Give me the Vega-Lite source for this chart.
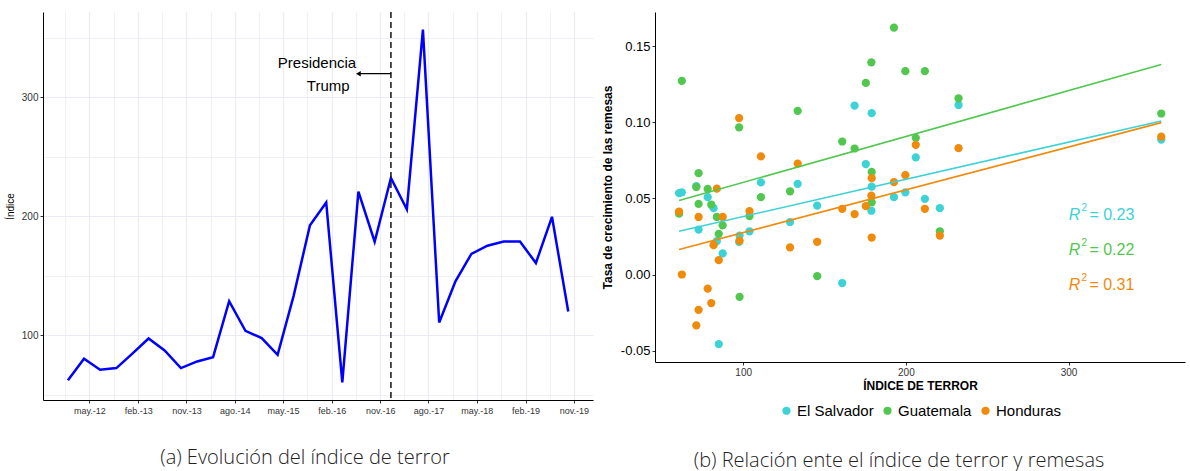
{
  "$schema": "https://vega.github.io/schema/vega-lite/v6.json",
  "background": "white",
  "padding": {"left": 5, "top": 11, "right": 2, "bottom": 5},
  "spacing": 8,
  "resolve": {"legend": {"color": "independent"}, "scale": {"color": "independent"}},
  "config": {
    "view": {"stroke": null},
    "font": "Liberation Sans",
    "axis": {"domainColor": "#000", "domainWidth": 1, "tickColor": "#333", "tickSize": 3, "labelColor": "#4d4d4d"},
    "legend": {"layout": {"bottom": {"anchor": "middle"}}},
    "locale": {
      "number": {"decimal": ".", "thousands": ",", "grouping": [3], "currency": ["$", ""], "minus": "-"},
      "time": {
        "dateTime": "%A, %e de %B de %Y, %X",
        "date": "%d/%m/%Y",
        "time": "%H:%M:%S",
        "periods": ["AM", "PM"],
        "days": ["domingo", "lunes", "martes", "miércoles", "jueves", "viernes", "sábado"],
        "shortDays": ["dom", "lun", "mar", "mié", "jue", "vie", "sáb"],
        "months": ["enero", "febrero", "marzo", "abril", "mayo", "junio", "julio", "agosto", "septiembre", "octubre", "noviembre", "diciembre"],
        "shortMonths": ["ene", "feb", "mar", "abr", "may", "jun", "jul", "ago", "sep", "oct", "nov", "dic"]
      }
    }
  },
  "datasets": {
    "indice": [
      {"fecha": "2012-01-01", "indice": 62.3},
      {"fecha": "2012-04-01", "indice": 80.4},
      {"fecha": "2012-07-01", "indice": 71.2},
      {"fecha": "2012-10-01", "indice": 72.6},
      {"fecha": "2013-01-01", "indice": 85.0},
      {"fecha": "2013-04-01", "indice": 97.5},
      {"fecha": "2013-07-01", "indice": 87.4},
      {"fecha": "2013-10-01", "indice": 72.6},
      {"fecha": "2014-01-01", "indice": 78.2},
      {"fecha": "2014-04-01", "indice": 81.8},
      {"fecha": "2014-07-01", "indice": 128.8},
      {"fecha": "2014-10-01", "indice": 103.9},
      {"fecha": "2015-01-01", "indice": 97.8},
      {"fecha": "2015-04-01", "indice": 83.8},
      {"fecha": "2015-07-01", "indice": 133.5},
      {"fecha": "2015-10-01", "indice": 192.7},
      {"fecha": "2016-01-01", "indice": 211.7},
      {"fecha": "2016-04-01", "indice": 60.6},
      {"fecha": "2016-07-01", "indice": 220.9},
      {"fecha": "2016-10-01", "indice": 178.8},
      {"fecha": "2017-01-01", "indice": 232.4},
      {"fecha": "2017-04-01", "indice": 206.1},
      {"fecha": "2017-07-01", "indice": 357.0},
      {"fecha": "2017-10-01", "indice": 110.9},
      {"fecha": "2018-01-01", "indice": 145.5},
      {"fecha": "2018-04-01", "indice": 168.5},
      {"fecha": "2018-07-01", "indice": 175.4},
      {"fecha": "2018-10-01", "indice": 179.0},
      {"fecha": "2019-01-01", "indice": 179.0},
      {"fecha": "2019-04-01", "indice": 160.9},
      {"fecha": "2019-07-01", "indice": 199.7},
      {"fecha": "2019-10-01", "indice": 120.1}
    ],
    "trump": [{"fecha": "2017-01-01"}],
    "flecha": [{"fecha": "2017-01-01", "hasta": "2016-07-01", "indice": 320}],
    "punta": [{"fecha": "2016-07-01", "indice": 320}],
    "nota": [
      {"texto": "Presidencia", "fecha": "2015-11-10", "indice": 328.7},
      {"texto": "Trump", "fecha": "2016-01-12", "indice": 309.5}
    ],
    "dispersion": [
      {"pais": "El Salvador", "terror": 62.3, "tasa": 0.054},
      {"pais": "El Salvador", "terror": 60.6, "tasa": 0.0535},
      {"pais": "El Salvador", "terror": 71.2, "tasa": 0.058},
      {"pais": "El Salvador", "terror": 78.2, "tasa": 0.0508},
      {"pais": "El Salvador", "terror": 81.8, "tasa": 0.0436},
      {"pais": "El Salvador", "terror": 72.6, "tasa": 0.0295},
      {"pais": "El Salvador", "terror": 103.9, "tasa": 0.0284},
      {"pais": "El Salvador", "terror": 97.8, "tasa": 0.0256},
      {"pais": "El Salvador", "terror": 83.8, "tasa": 0.0219},
      {"pais": "El Salvador", "terror": 87.4, "tasa": 0.0139},
      {"pais": "El Salvador", "terror": 85.0, "tasa": -0.0457},
      {"pais": "El Salvador", "terror": 110.9, "tasa": 0.0605},
      {"pais": "El Salvador", "terror": 133.5, "tasa": 0.0596},
      {"pais": "El Salvador", "terror": 128.8, "tasa": 0.0345},
      {"pais": "El Salvador", "terror": 145.5, "tasa": 0.0453},
      {"pais": "El Salvador", "terror": 168.5, "tasa": 0.111},
      {"pais": "El Salvador", "terror": 179.0, "tasa": 0.106},
      {"pais": "El Salvador", "terror": 232.4, "tasa": 0.1114},
      {"pais": "El Salvador", "terror": 206.1, "tasa": 0.077},
      {"pais": "El Salvador", "terror": 175.4, "tasa": 0.0726},
      {"pais": "El Salvador", "terror": 179.0, "tasa": 0.0577},
      {"pais": "El Salvador", "terror": 192.7, "tasa": 0.0508},
      {"pais": "El Salvador", "terror": 199.7, "tasa": 0.054},
      {"pais": "El Salvador", "terror": 211.7, "tasa": 0.0497},
      {"pais": "El Salvador", "terror": 220.9, "tasa": 0.0436},
      {"pais": "El Salvador", "terror": 178.8, "tasa": 0.0419},
      {"pais": "El Salvador", "terror": 160.9, "tasa": -0.0056},
      {"pais": "El Salvador", "terror": 357.0, "tasa": 0.0887},
      {"pais": "El Salvador", "terror": 97.5, "tasa": 0.0215},
      {"pais": "Guatemala", "terror": 62.3, "tasa": 0.1272},
      {"pais": "Guatemala", "terror": 97.5, "tasa": 0.0967},
      {"pais": "Guatemala", "terror": 133.5, "tasa": 0.1075},
      {"pais": "Guatemala", "terror": 72.6, "tasa": 0.0666},
      {"pais": "Guatemala", "terror": 71.2, "tasa": 0.0575},
      {"pais": "Guatemala", "terror": 78.2, "tasa": 0.0562},
      {"pais": "Guatemala", "terror": 72.6, "tasa": 0.0464},
      {"pais": "Guatemala", "terror": 80.4, "tasa": 0.046},
      {"pais": "Guatemala", "terror": 110.9, "tasa": 0.0508},
      {"pais": "Guatemala", "terror": 128.8, "tasa": 0.0547},
      {"pais": "Guatemala", "terror": 60.6, "tasa": 0.04},
      {"pais": "Guatemala", "terror": 83.8, "tasa": 0.0378},
      {"pais": "Guatemala", "terror": 103.9, "tasa": 0.0384},
      {"pais": "Guatemala", "terror": 87.4, "tasa": 0.0323},
      {"pais": "Guatemala", "terror": 85.0, "tasa": 0.0267},
      {"pais": "Guatemala", "terror": 145.5, "tasa": -0.0011},
      {"pais": "Guatemala", "terror": 97.8, "tasa": -0.0147},
      {"pais": "Guatemala", "terror": 192.7, "tasa": 0.1622},
      {"pais": "Guatemala", "terror": 178.8, "tasa": 0.1394},
      {"pais": "Guatemala", "terror": 199.7, "tasa": 0.1336},
      {"pais": "Guatemala", "terror": 211.7, "tasa": 0.1336},
      {"pais": "Guatemala", "terror": 175.4, "tasa": 0.1259},
      {"pais": "Guatemala", "terror": 232.4, "tasa": 0.1158},
      {"pais": "Guatemala", "terror": 160.9, "tasa": 0.0874},
      {"pais": "Guatemala", "terror": 168.5, "tasa": 0.0828},
      {"pais": "Guatemala", "terror": 206.1, "tasa": 0.0898},
      {"pais": "Guatemala", "terror": 179.0, "tasa": 0.0674},
      {"pais": "Guatemala", "terror": 179.0, "tasa": 0.0475},
      {"pais": "Guatemala", "terror": 220.9, "tasa": 0.0284},
      {"pais": "Guatemala", "terror": 357.0, "tasa": 0.1058},
      {"pais": "Honduras", "terror": 97.5, "tasa": 0.1028},
      {"pais": "Honduras", "terror": 110.9, "tasa": 0.0776},
      {"pais": "Honduras", "terror": 133.5, "tasa": 0.0729},
      {"pais": "Honduras", "terror": 83.8, "tasa": 0.0564},
      {"pais": "Honduras", "terror": 60.6, "tasa": 0.0414},
      {"pais": "Honduras", "terror": 72.6, "tasa": 0.0378},
      {"pais": "Honduras", "terror": 87.4, "tasa": 0.0378},
      {"pais": "Honduras", "terror": 103.9, "tasa": 0.0417},
      {"pais": "Honduras", "terror": 97.8, "tasa": 0.0222},
      {"pais": "Honduras", "terror": 81.8, "tasa": 0.0193},
      {"pais": "Honduras", "terror": 128.8, "tasa": 0.0178},
      {"pais": "Honduras", "terror": 145.5, "tasa": 0.0215},
      {"pais": "Honduras", "terror": 85.0, "tasa": 0.0094},
      {"pais": "Honduras", "terror": 62.3, "tasa": 0.0},
      {"pais": "Honduras", "terror": 78.2, "tasa": -0.0093},
      {"pais": "Honduras", "terror": 80.4, "tasa": -0.0188},
      {"pais": "Honduras", "terror": 72.6, "tasa": -0.0233},
      {"pais": "Honduras", "terror": 71.2, "tasa": -0.0334},
      {"pais": "Honduras", "terror": 206.1, "tasa": 0.0852},
      {"pais": "Honduras", "terror": 232.4, "tasa": 0.083},
      {"pais": "Honduras", "terror": 179.0, "tasa": 0.0633},
      {"pais": "Honduras", "terror": 199.7, "tasa": 0.0653},
      {"pais": "Honduras", "terror": 192.7, "tasa": 0.0607},
      {"pais": "Honduras", "terror": 178.8, "tasa": 0.0518},
      {"pais": "Honduras", "terror": 211.7, "tasa": 0.0432},
      {"pais": "Honduras", "terror": 175.4, "tasa": 0.0449},
      {"pais": "Honduras", "terror": 168.5, "tasa": 0.0397},
      {"pais": "Honduras", "terror": 160.9, "tasa": 0.0432},
      {"pais": "Honduras", "terror": 179.0, "tasa": 0.0243},
      {"pais": "Honduras", "terror": 220.9, "tasa": 0.0256},
      {"pais": "Honduras", "terror": 357.0, "tasa": 0.0906}
    ],
    "r2": [
      {"pais": "El Salvador", "terror": 307.3, "tasa": 0.0389, "valor": "= 0.23"},
      {"pais": "Guatemala", "terror": 307.3, "tasa": 0.0159, "valor": "= 0.22"},
      {"pais": "Honduras", "terror": 307.3, "tasa": -0.0072, "valor": "= 0.31"}
    ]
  },
  "hconcat": [
    {
      "width": 550,
      "height": 388,
      "title": {"text": "(a) Evolución del índice de terror", "orient": "bottom", "anchor": "middle", "font": "Open Sans", "fontWeight": 300, "fontSize": 20, "color": "#222", "offset": 33, "dx": -13},
      "resolve": {"axis": {"x": "independent"}},
      "layer": [
        {
          "data": {"name": "indice"},
          "mark": {"type": "line", "color": "#0000FF", "strokeWidth": 2.5},
          "encoding": {
            "x": {
              "field": "fecha", "type": "temporal",
              "scale": {"domain": [1313193600000, 1581984000000], "nice": false},
              "axis": {
                "title": null,
                "values": [1335873600000, 1359720000000, 1383307200000, 1406894400000, 1430481600000, 1454328000000, 1478001600000, 1501588800000, 1525176000000, 1549022400000, 1572609600000],
                "format": "%b.-%y",
                "labelFontSize": 9,
                "labelColor": "#333",
                "labelPadding": 3,
                "labelOverlap": false,
                "grid": true,
                "gridColor": "#EBEBF3",
                "gridWidth": 1.2,
                "tickColor": "#333",
                "tickSize": 3
              }
            },
            "y": {
              "field": "indice", "type": "quantitative",
              "scale": {"domain": [45.8, 371.8], "nice": false, "zero": false},
              "axis": {
                "values": [50, 100, 150, 200, 250, 300, 350],
                "labelExpr": "datum.value % 100 == 0 ? datum.label : ''",
                "title": "Índice",
                "titleFontWeight": "normal",
                "titleFontSize": 10,
                "titleColor": "#000",
                "titlePadding": 6,
                "labelFontSize": 10,
                "labelColor": "#333",
                "labelPadding": 2,
                "grid": true,
                "gridColor": "#EBEBF3",
                "gridWidth": {"condition": {"test": "datum.value % 100 == 0", "value": 1.2}, "value": 0.8},
                "tickColor": {"condition": {"test": "datum.value % 100 == 0", "value": "#333"}, "value": "transparent"},
                "tickSize": 3
              }
            }
          }
        },
        {
          "data": {"name": "trump"},
          "mark": {"type": "rule", "color": "#222", "strokeWidth": 1.6, "strokeDash": [6, 4]},
          "encoding": {
            "x": {
              "field": "fecha", "type": "temporal",
              "axis": {
                "orient": "top",
                "title": null,
                "values": [1324036800000, 1347796800000, 1371470400000, 1395144000000, 1418731200000, 1442404800000, 1466164800000, 1489838400000, 1513425600000, 1537099200000, 1560772800000],
                "labels": false,
                "ticks": false,
                "domain": false,
                "grid": true,
                "gridColor": "#EBEBF3",
                "gridWidth": 0.8
              }
            }
          }
        },
        {
          "data": {"name": "flecha"},
          "mark": {"type": "rule", "color": "#000", "strokeWidth": 1.2},
          "encoding": {
            "x": {"field": "fecha", "type": "temporal", "axis": null},
            "x2": {"field": "hasta"},
            "y": {"field": "indice", "type": "quantitative"}
          }
        },
        {
          "data": {"name": "punta"},
          "mark": {"type": "point", "shape": "triangle-left", "filled": true, "color": "#000", "size": 30, "opacity": 1},
          "encoding": {
            "x": {"field": "fecha", "type": "temporal", "axis": null},
            "y": {"field": "indice", "type": "quantitative"}
          }
        },
        {
          "data": {"name": "nota"},
          "mark": {"type": "text", "fontSize": 15, "color": "#000", "align": "center", "baseline": "middle"},
          "encoding": {
            "x": {"field": "fecha", "type": "temporal", "axis": null},
            "y": {"field": "indice", "type": "quantitative"},
            "text": {"field": "texto"}
          }
        }
      ]
    },
    {
      "width": 530,
      "height": 350,
      "title": {"text": "(b) Relación ente el índice de terror y remesas", "orient": "bottom", "anchor": "middle", "font": "Open Sans", "fontWeight": 300, "fontSize": 20, "color": "#222", "offset": 32, "dx": -21},
      "layer": [
        {
          "data": {"name": "dispersion"},
          "mark": {"type": "circle", "size": 68, "opacity": 1},
          "encoding": {
            "x": {
              "field": "terror", "type": "quantitative",
              "scale": {"domain": [45.8, 371.6], "nice": false, "zero": false},
              "axis": {"values": [100, 200, 300], "title": "ÍNDICE DE TERROR", "grid": false, "labelFontSize": 10, "labelColor": "#333", "titleFontSize": 12, "titleFontWeight": "bold", "titleColor": "#000", "titlePadding": 3, "tickSize": 3}
            },
            "y": {
              "field": "tasa", "type": "quantitative",
              "scale": {"domain": [-0.0575, 0.1725], "nice": false, "zero": false},
              "axis": {"values": [-0.05, 0, 0.05, 0.1, 0.15], "format": ".2f", "title": "Tasa de crecimiento de las remesas", "grid": false, "labelFontSize": 13, "labelColor": "#000", "titleFontSize": 12, "titleFontWeight": "bold", "titleColor": "#000", "titlePadding": 6, "tickSize": 3}
            },
            "color": {
              "field": "pais", "type": "nominal",
              "scale": {"domain": ["El Salvador", "Guatemala", "Honduras"], "range": ["#3CD2D6", "#52C74F", "#F08A0B"]},
              "legend": {"orient": "bottom", "direction": "horizontal", "title": null, "labelFontSize": 15, "labelColor": "#000", "symbolType": "circle", "symbolSize": 68, "symbolStrokeWidth": 0, "columnPadding": 6, "labelOffset": 3, "offset": 12}
            }
          }
        },
        {
          "data": {"name": "dispersion"},
          "transform": [{"regression": "tasa", "on": "terror", "groupby": ["pais"]}],
          "mark": {"type": "line", "strokeWidth": 1.6},
          "encoding": {
            "x": {"field": "terror", "type": "quantitative"},
            "y": {"field": "tasa", "type": "quantitative"},
            "color": {"field": "pais", "type": "nominal", "legend": null}
          }
        },
        {
          "data": {"name": "r2"},
          "mark": {"type": "text", "fontSize": 16, "fontStyle": "italic", "align": "right", "baseline": "middle"},
          "encoding": {
            "x": {"field": "terror", "type": "quantitative"},
            "y": {"field": "tasa", "type": "quantitative"},
            "text": {"value": "R"},
            "color": {"field": "pais", "type": "nominal", "legend": null}
          }
        },
        {
          "data": {"name": "r2"},
          "mark": {"type": "text", "fontSize": 10, "align": "left", "baseline": "middle", "dx": 1, "dy": -7},
          "encoding": {
            "x": {"field": "terror", "type": "quantitative"},
            "y": {"field": "tasa", "type": "quantitative"},
            "text": {"value": "2"},
            "color": {"field": "pais", "type": "nominal", "legend": null}
          }
        },
        {
          "data": {"name": "r2"},
          "mark": {"type": "text", "fontSize": 16, "align": "left", "baseline": "middle", "dx": 9},
          "encoding": {
            "x": {"field": "terror", "type": "quantitative"},
            "y": {"field": "tasa", "type": "quantitative"},
            "text": {"field": "valor"},
            "color": {"field": "pais", "type": "nominal", "legend": null}
          }
        }
      ]
    }
  ]
}
